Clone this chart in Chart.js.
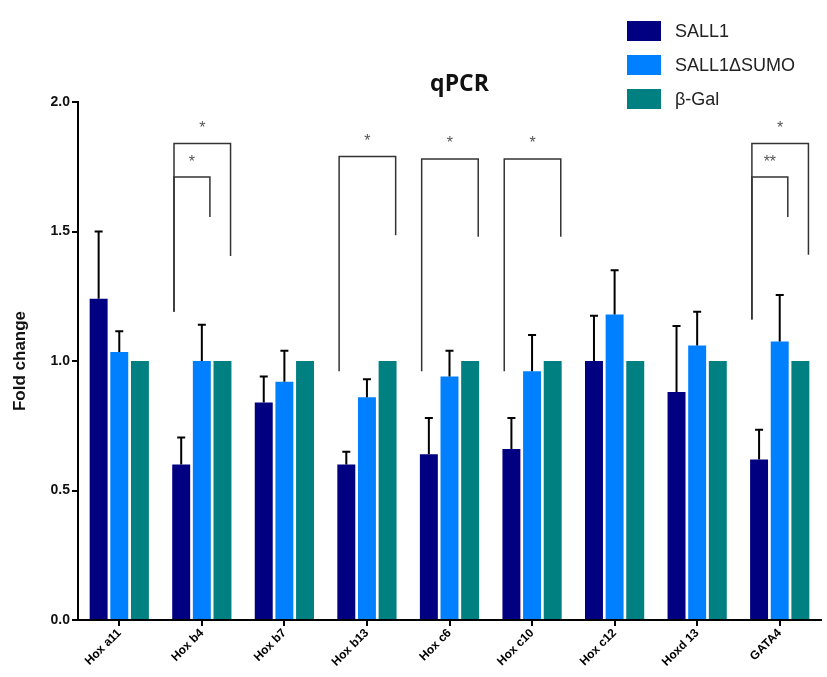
<!DOCTYPE html>
<html>
<head>
<meta charset="utf-8">
<script src="https://cdn.jsdelivr.net/npm/chart.js@4"></script>
<style>
  body { margin: 0; background: #fff; }
  #wrap { position: relative; width: 827px; height: 677px; }
  #legend { position: absolute; left: 627px; top: 14px; font-family: "Liberation Sans", Arial, sans-serif; font-size: 18px; color: #222; }
  #legend div { display: flex; align-items: center; height: 34px; }
  #legend span.box { display: inline-block; width: 34px; height: 20px; margin-right: 14px; }
</style>
</head>
<body>
<div id="wrap">
  <canvas id="myChart" width="827" height="677"></canvas>
  <div id="legend"></div>
</div>
<script>
// chart values
const categories = ['Hox a11', 'Hox b4', 'Hox b7', 'Hox b13', 'Hox c6', 'Hox c10', 'Hox c12', 'Hoxd 13', 'GATA4'];
const seriesNames = ['SALL1', 'SALL1\u0394SUMO', '\u03b2-Gal'];
const sall1 = [1.24, 0.60, 0.84, 0.60, 0.64, 0.66, 1.00, 0.88, 0.62];
const sall1Err = [0.26, 0.105, 0.10, 0.05, 0.14, 0.12, 0.175, 0.255, 0.115];
const sumo = [1.035, 1.00, 0.92, 0.86, 0.94, 0.96, 1.18, 1.06, 1.075];
const sumoErr = [0.08, 0.14, 0.12, 0.07, 0.10, 0.14, 0.17, 0.13, 0.18];
const gal = [1, 1, 1, 1, 1, 1, 1, 1, 1];
const galErr = [0, 0, 0, 0, 0, 0, 0, 0, 0];
const yTicks = [0, 0.5, 1.0, 1.5, 2.0];
const chartTitle = 'qPCR';

// significance brackets: category, compared series, heights in fold change
const bracketCat = [1, 1, 3, 4, 5, 8, 8];
const bracketTo = [2, 1, 2, 2, 2, 2, 1];
const bracketTop = [1.84, 1.71, 1.79, 1.78, 1.78, 1.84, 1.71];
const bracketLeftEnd = [1.19, 1.19, 0.96, 0.96, 0.96, 1.16, 1.16];
const bracketRightEnd = [1.405, 1.556, 1.486, 1.48, 1.48, 1.41, 1.556];
const bracketLabel = ['*', '*', '*', '*', '*', '*', '**'];

const colors = ['#000080', '#0080ff', '#008080'];
const errors = [sall1Err, sumoErr, galErr];

// legend in html
const legend = document.getElementById('legend');
seriesNames.forEach((name, i) => {
    legend.innerHTML += '<div><span class="box" style="background:' + colors[i] + '"></span>' + name + '</div>';
});

// error bars, brackets and title
const extras = {
    id: 'extras',
    afterDatasetsDraw(chart) {
        const ctx = chart.ctx;
        const y = chart.scales.y;
        ctx.save();
        // error bars
        ctx.strokeStyle = '#000';
        ctx.lineWidth = 2;
        chart.data.datasets.forEach((ds, i) => {
            const meta = chart.getDatasetMeta(i);
            meta.data.forEach((bar, j) => {
                const e = errors[i][j];
                if (!e) return;
                const top = y.getPixelForValue(ds.data[j] + e);
                ctx.beginPath();
                ctx.moveTo(bar.x, bar.y);
                ctx.lineTo(bar.x, top);
                ctx.moveTo(bar.x - 4, top);
                ctx.lineTo(bar.x + 4, top);
                ctx.stroke();
            });
        });
        // brackets
        ctx.strokeStyle = '#333';
        ctx.lineWidth = 1.5;
        ctx.fillStyle = '#555';
        ctx.font = '16px "Liberation Sans", Arial, sans-serif';
        ctx.textAlign = 'center';
        ctx.textBaseline = 'middle';
        bracketCat.forEach((c, k) => {
            const b0 = chart.getDatasetMeta(0).data[c];
            const b1 = chart.getDatasetMeta(bracketTo[k]).data[c];
            const x0 = b0.x - b0.width * 0.4;
            const x1 = b1.x + b1.width * 0.45;
            const yt = y.getPixelForValue(bracketTop[k]);
            ctx.beginPath();
            ctx.moveTo(x0, y.getPixelForValue(bracketLeftEnd[k]));
            ctx.lineTo(x0, yt);
            ctx.lineTo(x1, yt);
            ctx.lineTo(x1, y.getPixelForValue(bracketRightEnd[k]));
            ctx.stroke();
            ctx.fillText(bracketLabel[k], (x0 + x1) / 2, yt - 15);
        });
        // title
        const area = chart.chartArea;
        ctx.fillStyle = '#111';
        ctx.font = 'bold 23px "Open Sans", sans-serif';
        ctx.fillText(chartTitle, (area.left + area.right) / 2 + 10, 84);
        ctx.restore();
    }
};

const ctx = document.getElementById('myChart').getContext('2d');
const data = {
    labels: categories,
    datasets: [sall1, sumo, gal].map((vals, i) => ({
        label: seriesNames[i],
        data: vals,
        backgroundColor: colors[i],
        categoryPercentage: 0.75,
        barPercentage: 0.87,
    })),
};
const config = {
    type: 'bar',
    data,
    options: {
        responsive: false,
        animation: false,
        layout: { padding: { top: 102, right: 6, left: 0, bottom: 0 } },
        plugins: {
            legend: { display: false },
            tooltip: { enabled: false },
        },
        scales: {
            x: {
                offset: true,
                border: { color: '#000', width: 2 },
                grid: { display: true, drawOnChartArea: false, offset: false, color: '#000', lineWidth: 2, tickLength: 6 },
                ticks: {
                    color: '#000',
                    minRotation: 45,
                    maxRotation: 45,
                    padding: 0,
                    font: { family: '"Liberation Sans", Arial, sans-serif', size: 12, weight: 'bold' },
                },
                afterFit(scale) { scale.height = 57; },
            },
            y: {
                min: 0,
                max: 2,
                border: { color: '#000', width: 2 },
                grid: { display: true, drawOnChartArea: false, color: '#000', lineWidth: 2, tickLength: 6 },
                afterBuildTicks(scale) { scale.ticks = yTicks.map(v => ({ value: v })); },
                ticks: {
                    color: '#111',
                    padding: 2,
                    font: { family: '"Liberation Sans", Arial, sans-serif', size: 14, weight: 'bold' },
                    callback: v => v.toFixed(1),
                },
                title: {
                    display: true,
                    text: 'Fold change',
                    color: '#111',
                    font: { family: '"Liberation Sans", Arial, sans-serif', size: 17, weight: 'bold' },
                    padding: { top: 10, bottom: 8 },
                },
                afterFit(scale) { scale.width = 78; },
            },
        },
    },
    plugins: [extras],
};
let chart = new Chart(ctx, config);
</script>
</body>
</html>
